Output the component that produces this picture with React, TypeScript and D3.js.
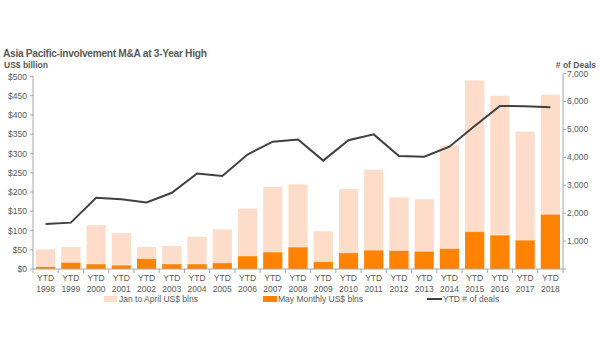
import React from "react";
import * as d3 from "d3";

const years = ["1998","1999","2000","2001","2002","2003","2004","2005","2006","2007","2008","2009","2010","2011","2012","2013","2014","2015","2016","2017","2018"];
const totalValues = [51,57,114,93,57,60,84,103,157,213,220,98,208,258,186,181,321,490,450,357,453];
const mayValues = [6,17,13,10,27,13,13,16,34,44,57,19,42,49,48,46,53,97,88,75,142];
const dealCounts = [1610,1660,2550,2500,2380,2730,3420,3330,4100,4560,4640,3880,4610,4820,4050,4020,4380,5120,5840,5830,5790];
const leftTicks = [0,50,100,150,200,250,300,350,400,450,500];
const rightTicks = [0,1000,2000,3000,4000,5000,6000,7000];

const FONT = "Liberation Sans, Arial, sans-serif";
const TXT = "#595959";
const LIGHT = "#FDDCC9";
const ORANGE = "#FF8200";
const LINE = "#404040";
const AXIS = "#A6A6A6";

export default function App() {
  const W = 600, H = 360;
  const x0 = 33, x1 = 563, yBottom = 269;
  const x = d3.scaleBand<string>().domain(years).range([x0, x1]).paddingInner(0.24).paddingOuter(0.12);
  const xc = (y: string) => (x(y) as number) + x.bandwidth() / 2;
  const yL = d3.scaleLinear().domain([0, 500]).range([yBottom, 76.5]);
  const yR = d3.scaleLinear().domain([0, 7000]).range([yBottom, 73.5]);
  const step = (x1 - x0) / years.length;
  const line = d3.line<number>().x((_, i) => xc(years[i])).y(d => yR(d));

  return (
    <svg width={W} height={H} style={{ position: "absolute", left: 0, top: 0, fontFamily: FONT }}>
      <rect width={W} height={H} fill="#fff" />
      <text x={3} y={57} fontSize={10.2} fontWeight="bold" fill={TXT} letterSpacing={-0.3}>Asia Pacific-involvement M&amp;A at 3-Year High</text>
      <text x={4} y={68} fontSize={8.5} fontWeight="bold" fill={TXT}>US$ billion</text>
      <text x={596} y={68} fontSize={8.5} fontWeight="bold" fill={TXT} textAnchor="end"># of Deals</text>

      {years.map((yr, i) => (
        <g key={yr}>
          <rect x={x(yr)} y={yL(totalValues[i])} width={x.bandwidth()} height={yBottom - yL(totalValues[i])} fill={LIGHT} />
          <rect x={x(yr)} y={yL(mayValues[i])} width={x.bandwidth()} height={yBottom - yL(mayValues[i])} fill={ORANGE} />
          <line x1={x(yr)} x2={(x(yr) as number) + x.bandwidth()} y1={yL(mayValues[i])} y2={yL(mayValues[i])} stroke="#fff" strokeOpacity={0.5} strokeWidth={0.8} />
        </g>
      ))}

      <path d={line(dealCounts) || ""} fill="none" stroke={LINE} strokeWidth={2} />

      {/* left axis */}
      <line x1={x0} x2={x0} y1={yL(500)} y2={yBottom} stroke={AXIS} />
      {leftTicks.map(t => (
        <g key={t}>
          <line x1={x0 - 3} x2={x0} y1={yL(t)} y2={yL(t)} stroke={AXIS} />
          <text x={27} y={yL(t) + 3} fontSize={8.5} fill={TXT} textAnchor="end">${t}</text>
        </g>
      ))}
      {/* right axis */}
      <line x1={x1} x2={x1} y1={yR(7000)} y2={yBottom} stroke={AXIS} />
      {rightTicks.map(t => (
        <g key={t}>
          <line x1={x1} x2={x1 + 3} y1={yR(t)} y2={yR(t)} stroke={AXIS} />
          {t > 0 && <text x={567} y={yR(t) + 3} fontSize={8.5} fill={TXT}>{d3.format(",")(t)}</text>}
        </g>
      ))}
      {/* bottom axis */}
      <line x1={x0} x2={x1} y1={yBottom} y2={yBottom} stroke={AXIS} />
      {d3.range(years.length + 1).map(i => (
        <line key={i} x1={x0 + i * step} x2={x0 + i * step} y1={yBottom} y2={yBottom + 4} stroke={AXIS} />
      ))}
      {years.map(yr => (
        <g key={yr}>
          <text x={xc(yr)} y={281} fontSize={8.5} fill={TXT} textAnchor="middle">YTD</text>
          <text x={xc(yr)} y={292} fontSize={8.5} fill={TXT} textAnchor="middle">{yr}</text>
        </g>
      ))}

      {/* legend */}
      <rect x={104} y={296} width={13} height={6} fill={LIGHT} />
      <text x={119} y={302} fontSize={8.5} fill={TXT}>Jan to April US$ blns</text>
      <rect x={263} y={296} width={14} height={6} fill={ORANGE} />
      <text x={278} y={302} fontSize={8.5} fill={TXT}>May Monthly US$ blns</text>
      <line x1={427} x2={442} y1={299} y2={299} stroke={LINE} strokeWidth={2} />
      <text x={443} y={302} fontSize={8.5} fill={TXT}>YTD # of deals</text>
    </svg>
  );
}
